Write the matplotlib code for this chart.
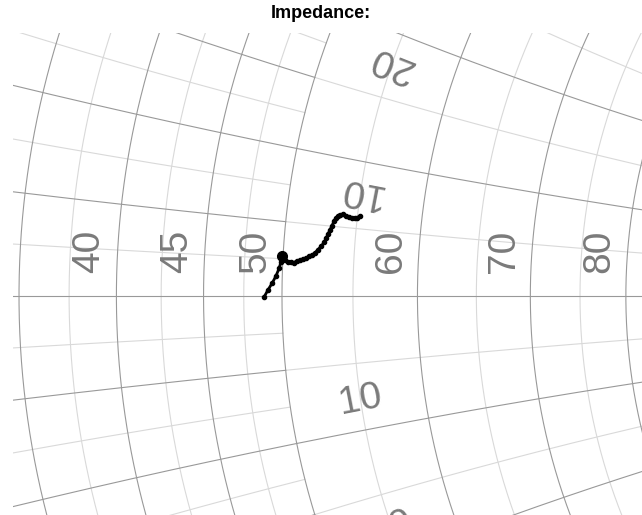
"""Smith chart close-up of a measured impedance trace around 50 ohm."""

import matplotlib

matplotlib.use("Agg")

import matplotlib.pyplot as plt
import numpy as np

Z0 = 50.0

# measured trace (ohms)
trace_r = [48.81, 49.07, 49.36, 49.58, 49.77, 49.88, 49.93, 50.14, 50.35, 50.55,
           50.76, 50.96, 51.16, 51.37, 51.57, 51.77, 51.97, 52.18, 52.37, 52.57,
           52.76, 52.88, 53.00, 53.11, 53.23, 53.34, 53.45, 53.58, 53.72, 53.93,
           54.16, 54.39, 54.62, 54.83, 54.98, 55.19]
trace_x = [-0.07, 0.40, 0.89, 1.33, 1.84, 2.28, 2.68, 2.42, 2.30, 2.34,
           2.28, 2.40, 2.44, 2.52, 2.60, 2.75, 2.86, 3.02, 3.27, 3.50,
           3.80, 4.09, 4.42, 4.72, 5.05, 5.39, 5.62, 5.78, 5.90, 5.93,
           5.84, 5.76, 5.71, 5.77, 5.80, 5.96]
marker_index = 6

# grid values (ohms); the grid gets coarser to the right of 50 ohm
resistance_major = [25, 30, 35, 40, 45, 50, 60, 70, 80, 90, 100]
resistance_minor = [27.5, 32.5, 37.5, 42.5, 47.5, 55, 65, 75, 85, 95]
reactance_major_low = [5, 10, 15, 20]       # drawn for R <= 50
reactance_minor_low = [2.5, 7.5, 12.5, 17.5]
reactance_major_high = [10, 20, 30, 40]     # drawn for R >= 50
reactance_minor_high = [5, 15, 25, 35]

resistance_labels = [40, 45, 50, 60, 70, 80]
reactance_labels = [10, 20, -10, -20]

MAJOR_COLOR = "#999999"
MINOR_COLOR = "#d9d9d9"
LABEL_COLOR = "#7a7a7a"
LABEL_R = 55.0


def to_gamma(r_ohm, x_ohm):
    """Map impedance in ohms to reflection coefficient (re, im)."""
    z = (np.asarray(r_ohm, dtype=float) + 1j * np.asarray(x_ohm, dtype=float)) / Z0
    g = (z - 1) / (z + 1)
    return g.real, g.imag


def draw_resistance(ax, r_ohm, color):
    x_vals = np.linspace(-200, 200, 4001)
    gx, gy = to_gamma(np.full_like(x_vals, r_ohm), x_vals)
    ax.plot(gx, gy, color=color, lw=0.8, zorder=1)


def draw_reactance(ax, x_ohm, color, r_min, r_max):
    r_vals = np.linspace(r_min, r_max, 4001)
    for sign in (1, -1):
        gx, gy = to_gamma(r_vals, np.full_like(r_vals, sign * x_ohm))
        ax.plot(gx, gy, color=color, lw=0.8, zorder=1)


fig = plt.figure(figsize=(6.42, 5.15), dpi=100)
ax = fig.add_axes([13 / 642, 0, 629 / 642, 482 / 515])
ax.set_xlim(-0.1805, 0.2416)
ax.set_ylim(-0.147, 0.1765)
ax.axis("off")

for r in resistance_minor:
    draw_resistance(ax, r, MINOR_COLOR)
for x in reactance_minor_low:
    draw_reactance(ax, x, MINOR_COLOR, 0.0, Z0)
for x in reactance_minor_high:
    draw_reactance(ax, x, MINOR_COLOR, Z0, 400.0)
for r in resistance_major:
    draw_resistance(ax, r, MAJOR_COLOR)
for x in reactance_major_low:
    draw_reactance(ax, x, MAJOR_COLOR, 0.0, Z0)
for x in reactance_major_high:
    draw_reactance(ax, x, MAJOR_COLOR, Z0, 400.0)
ax.axhline(0, color=MAJOR_COLOR, lw=0.8, zorder=1)

label_font = dict(family=["Liberation Sans", "DejaVu Sans"], fontsize=28, color=LABEL_COLOR)

for r in resistance_labels:
    gx, _ = to_gamma(r, 0.0)
    ax.text(gx - 0.018, 0.030, f"{r:g}", rotation=90, ha="center", va="center",
            rotation_mode="anchor", zorder=2, **label_font)

for x in reactance_labels:
    px, py = to_gamma(LABEL_R, x)
    cx, cy = 1.0, Z0 / x
    n = np.array([px - cx, py - cy])
    n /= np.hypot(*n)
    angle = np.degrees(np.arctan2(-n[0], n[1]))
    ax.text(px + 0.0205 * n[0], py + 0.0205 * n[1], f"{abs(x):g}", rotation=angle,
            ha="center", va="center", rotation_mode="anchor", zorder=2, **label_font)

gx, gy = to_gamma(trace_r, trace_x)
ax.plot(gx, gy, color="black", lw=2.0, marker="o", ms=3, zorder=3)
ax.plot(gx[marker_index], gy[marker_index], "o", color="black", ms=7, zorder=4)

fig.text(0.5, 1 - 14 / 515, "Impedance:", ha="center", va="center", fontsize=13,
         fontweight="bold", family=["Liberation Sans", "DejaVu Sans"])

fig.savefig("out.png", dpi=100)
